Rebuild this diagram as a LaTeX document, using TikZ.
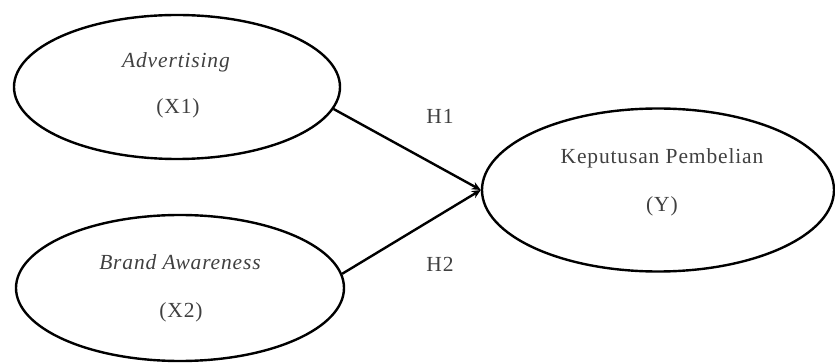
\documentclass[tikz,border=0pt]{standalone}
\usepackage{fontspec}
\setmainfont[LetterSpace=4]{Liberation Serif}
\usetikzlibrary{shapes.geometric,arrows.meta}
\tikzset{
  construct/.style={ellipse, draw=black, line width=2.4pt, inner sep=0pt},
  lbl/.style={font=\fontsize{21.5}{25}\selectfont, text=black!75},
  link/.style={line width=2.4pt, -{Stealth[length=9pt,width=8pt]}},
}
\begin{document}
\begin{tikzpicture}[x=1pt,y=-1pt]
\useasboundingbox (0,0) rectangle (835,363);
\node[construct, minimum width=326pt, minimum height=144pt] (a) at (177,87) {};
\node[construct, minimum width=328pt, minimum height=146pt] (b) at (180,288) {};
\node[construct, minimum width=352pt, minimum height=163pt] (y) at (658,190) {};
\node[lbl, font=\fontsize{21.5}{25}\selectfont\itshape] (ta) at (176,62) {Advertising};
\node[lbl] (ta2) at (178,108) {(X1)};
\node[lbl, font=\fontsize{21.5}{25}\selectfont\itshape] (tb) at (180,262) {Brand Awareness};
\node[lbl] (tb2) at (181,312) {(X2)};
\node[lbl] (ty) at (662,158) {Keputusan Pembelian};
\node[lbl] (ty2) at (662,206) {(Y)};
\node[lbl] (h1) at (440,116) {H1};
\node[lbl] (h2) at (440,264) {H2};
\draw[link] (a.-8) -- (y.west);
\draw[link] (b.5) -- (y.west);
\end{tikzpicture}
\end{document}
